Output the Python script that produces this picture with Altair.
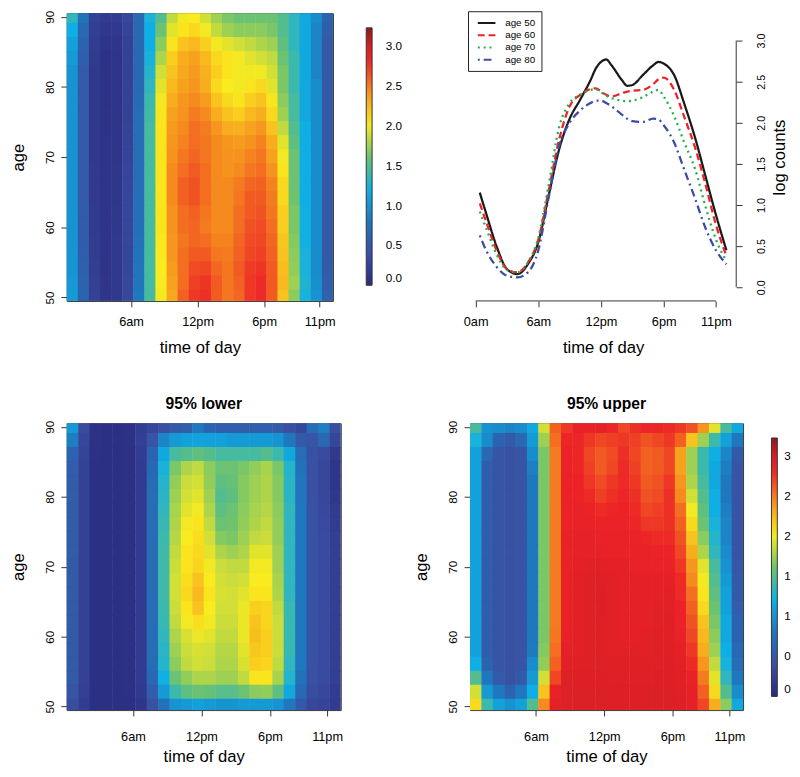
import altair as alt
import pandas as pd

FONT = "Liberation Sans"

# ---------------- data ----------------
ages = [90, 88, 86, 84, 82, 80, 78, 76, 74, 72, 70, 68, 66, 64, 62, 60, 58, 56, 54, 52, 50]
cell_hours = [0.2 + i for i in range(24)]  # left edge (hour) of each one-hour cell

mean_rows = [
    [1.35, 0.75, 0.25, 0.18, 0.20, 0.30, 0.65, 1.25, 1.50, 1.85, 2.00, 2.02, 1.90, 1.75, 1.65, 1.60, 1.60, 1.60, 1.60, 1.50, 1.35, 1.15, 0.95, 0.60],
    [1.20, 0.65, 0.22, 0.14, 0.16, 0.28, 0.65, 1.20, 1.60, 1.95, 2.05, 2.10, 2.00, 1.85, 1.75, 1.70, 1.70, 1.70, 1.65, 1.50, 1.35, 1.15, 0.90, 0.55],
    [1.10, 0.60, 0.20, 0.10, 0.12, 0.25, 0.65, 1.20, 1.70, 2.05, 2.20, 2.25, 2.15, 2.00, 1.95, 1.90, 1.85, 1.80, 1.75, 1.55, 1.35, 1.15, 0.90, 0.50],
    [1.05, 0.55, 0.18, 0.08, 0.10, 0.25, 0.65, 1.25, 1.80, 2.15, 2.30, 2.35, 2.25, 2.10, 2.05, 2.00, 1.95, 1.90, 1.85, 1.60, 1.40, 1.15, 0.90, 0.50],
    [1.00, 0.50, 0.16, 0.08, 0.10, 0.25, 0.65, 1.30, 1.90, 2.20, 2.32, 2.38, 2.28, 2.15, 2.05, 2.00, 2.00, 2.00, 1.90, 1.65, 1.40, 1.15, 0.90, 0.50],
    [1.00, 0.50, 0.15, 0.08, 0.10, 0.25, 0.65, 1.35, 1.95, 2.25, 2.35, 2.40, 2.30, 2.10, 2.02, 2.00, 2.05, 2.10, 1.95, 1.65, 1.40, 1.15, 0.95, 0.50],
    [1.00, 0.50, 0.15, 0.08, 0.10, 0.25, 0.68, 1.40, 2.00, 2.30, 2.40, 2.45, 2.38, 2.20, 2.10, 2.05, 2.15, 2.20, 2.05, 1.70, 1.45, 1.15, 0.95, 0.50],
    [1.00, 0.50, 0.15, 0.09, 0.11, 0.26, 0.70, 1.42, 2.05, 2.35, 2.42, 2.50, 2.45, 2.30, 2.20, 2.15, 2.25, 2.30, 2.10, 1.75, 1.45, 1.15, 0.95, 0.50],
    [1.00, 0.50, 0.16, 0.09, 0.11, 0.27, 0.70, 1.45, 2.05, 2.38, 2.45, 2.55, 2.50, 2.40, 2.30, 2.28, 2.35, 2.40, 2.20, 1.85, 1.50, 1.20, 0.95, 0.50],
    [1.00, 0.50, 0.16, 0.10, 0.12, 0.28, 0.70, 1.45, 2.05, 2.40, 2.48, 2.55, 2.52, 2.45, 2.40, 2.38, 2.42, 2.48, 2.30, 1.95, 1.55, 1.20, 0.95, 0.50],
    [1.00, 0.50, 0.16, 0.10, 0.12, 0.28, 0.70, 1.45, 2.05, 2.42, 2.52, 2.58, 2.52, 2.45, 2.42, 2.42, 2.48, 2.52, 2.35, 2.00, 1.60, 1.20, 0.95, 0.50],
    [1.00, 0.50, 0.17, 0.10, 0.13, 0.29, 0.71, 1.45, 2.05, 2.45, 2.55, 2.62, 2.55, 2.45, 2.42, 2.45, 2.52, 2.55, 2.42, 2.05, 1.60, 1.20, 0.95, 0.50],
    [1.00, 0.50, 0.17, 0.10, 0.13, 0.29, 0.71, 1.45, 2.05, 2.45, 2.60, 2.65, 2.55, 2.45, 2.45, 2.50, 2.58, 2.60, 2.48, 2.10, 1.60, 1.20, 0.95, 0.50],
    [1.00, 0.50, 0.17, 0.10, 0.13, 0.30, 0.72, 1.45, 2.05, 2.45, 2.60, 2.65, 2.55, 2.45, 2.45, 2.52, 2.62, 2.62, 2.50, 2.10, 1.62, 1.20, 0.95, 0.50],
    [1.00, 0.51, 0.18, 0.10, 0.14, 0.30, 0.72, 1.45, 2.05, 2.42, 2.55, 2.60, 2.52, 2.45, 2.45, 2.55, 2.62, 2.65, 2.52, 2.15, 1.65, 1.22, 0.95, 0.50],
    [1.00, 0.52, 0.18, 0.10, 0.14, 0.30, 0.72, 1.45, 2.05, 2.42, 2.55, 2.58, 2.50, 2.45, 2.45, 2.55, 2.65, 2.68, 2.55, 2.15, 1.65, 1.22, 0.95, 0.50],
    [1.00, 0.53, 0.19, 0.11, 0.15, 0.30, 0.74, 1.45, 2.04, 2.40, 2.52, 2.58, 2.55, 2.48, 2.48, 2.58, 2.68, 2.70, 2.58, 2.18, 1.68, 1.22, 0.95, 0.50],
    [1.01, 0.55, 0.20, 0.11, 0.15, 0.31, 0.76, 1.45, 2.03, 2.40, 2.55, 2.62, 2.62, 2.52, 2.50, 2.60, 2.70, 2.72, 2.60, 2.20, 1.70, 1.25, 0.95, 0.50],
    [1.02, 0.56, 0.22, 0.11, 0.15, 0.31, 0.78, 1.45, 2.02, 2.38, 2.55, 2.68, 2.70, 2.58, 2.52, 2.62, 2.74, 2.76, 2.62, 2.22, 1.72, 1.25, 0.95, 0.52],
    [1.04, 0.58, 0.23, 0.12, 0.16, 0.32, 0.79, 1.45, 2.01, 2.35, 2.55, 2.72, 2.76, 2.62, 2.52, 2.60, 2.75, 2.80, 2.62, 2.25, 1.75, 1.28, 0.98, 0.55],
    [1.05, 0.60, 0.25, 0.12, 0.16, 0.32, 0.80, 1.45, 2.00, 2.32, 2.60, 2.75, 2.78, 2.62, 2.52, 2.58, 2.75, 2.80, 2.62, 2.20, 1.70, 1.25, 1.00, 0.58],
]

lower_rows = [
    [1.05, 0.35, 0.08, 0.06, 0.06, 0.08, 0.20, 0.30, 0.40, 0.50, 0.55, 0.80, 0.60, 0.55, 0.55, 0.55, 0.55, 0.55, 0.50, 0.40, 0.30, 0.70, 0.85, 0.40],
    [0.85, 0.30, 0.08, 0.06, 0.06, 0.08, 0.22, 0.45, 0.90, 1.05, 1.10, 1.12, 1.10, 1.10, 1.05, 1.05, 1.05, 1.05, 1.00, 0.80, 0.50, 0.45, 0.65, 0.30],
    [0.60, 0.28, 0.07, 0.05, 0.05, 0.07, 0.20, 0.60, 1.15, 1.45, 1.50, 1.55, 1.50, 1.45, 1.45, 1.45, 1.45, 1.50, 1.40, 1.15, 0.70, 0.42, 0.35, 0.15],
    [0.55, 0.25, 0.06, 0.05, 0.05, 0.07, 0.18, 0.65, 1.25, 1.65, 1.80, 1.85, 1.70, 1.60, 1.60, 1.65, 1.72, 1.78, 1.65, 1.30, 0.75, 0.42, 0.32, 0.12],
    [0.52, 0.25, 0.06, 0.05, 0.05, 0.07, 0.18, 0.68, 1.30, 1.72, 1.88, 1.90, 1.72, 1.55, 1.58, 1.68, 1.75, 1.80, 1.68, 1.32, 0.78, 0.42, 0.32, 0.12],
    [0.52, 0.25, 0.06, 0.05, 0.05, 0.07, 0.18, 0.70, 1.32, 1.75, 1.90, 1.95, 1.75, 1.50, 1.55, 1.68, 1.75, 1.80, 1.68, 1.33, 0.78, 0.42, 0.32, 0.14],
    [0.52, 0.25, 0.06, 0.05, 0.05, 0.07, 0.18, 0.70, 1.35, 1.78, 1.95, 2.00, 1.80, 1.55, 1.60, 1.70, 1.78, 1.82, 1.70, 1.35, 0.80, 0.43, 0.33, 0.18],
    [0.52, 0.25, 0.06, 0.05, 0.05, 0.07, 0.18, 0.70, 1.38, 1.80, 2.00, 2.05, 1.85, 1.60, 1.62, 1.72, 1.80, 1.85, 1.72, 1.35, 0.80, 0.43, 0.34, 0.20],
    [0.52, 0.25, 0.06, 0.05, 0.05, 0.07, 0.18, 0.70, 1.40, 1.82, 2.02, 2.08, 1.90, 1.68, 1.65, 1.75, 1.85, 1.88, 1.72, 1.35, 0.80, 0.43, 0.35, 0.22],
    [0.52, 0.25, 0.06, 0.05, 0.05, 0.07, 0.18, 0.70, 1.42, 1.85, 2.05, 2.10, 1.95, 1.80, 1.75, 1.80, 1.95, 1.95, 1.75, 1.35, 0.80, 0.43, 0.35, 0.22],
    [0.50, 0.25, 0.06, 0.05, 0.05, 0.07, 0.18, 0.70, 1.42, 1.88, 2.05, 2.12, 2.00, 1.88, 1.85, 1.85, 2.00, 2.00, 1.75, 1.35, 0.80, 0.43, 0.35, 0.22],
    [0.50, 0.25, 0.06, 0.05, 0.05, 0.07, 0.18, 0.70, 1.42, 1.90, 2.08, 2.20, 2.02, 1.90, 1.88, 1.90, 2.02, 2.02, 1.78, 1.35, 0.80, 0.43, 0.35, 0.22],
    [0.50, 0.25, 0.06, 0.05, 0.05, 0.07, 0.18, 0.70, 1.42, 1.90, 2.10, 2.25, 2.05, 1.92, 1.90, 1.95, 2.05, 2.05, 1.80, 1.35, 0.80, 0.43, 0.35, 0.22],
    [0.50, 0.25, 0.06, 0.05, 0.05, 0.07, 0.18, 0.70, 1.40, 1.88, 2.05, 2.20, 2.02, 1.90, 1.90, 1.98, 2.15, 2.12, 1.85, 1.38, 0.80, 0.43, 0.35, 0.22],
    [0.50, 0.25, 0.06, 0.05, 0.05, 0.07, 0.18, 0.70, 1.38, 1.85, 2.00, 2.08, 2.00, 1.88, 1.88, 1.98, 2.20, 2.12, 1.88, 1.38, 0.80, 0.43, 0.35, 0.22],
    [0.50, 0.25, 0.06, 0.05, 0.05, 0.07, 0.18, 0.70, 1.35, 1.80, 1.92, 1.98, 1.95, 1.85, 1.85, 1.98, 2.22, 2.15, 1.88, 1.38, 0.80, 0.43, 0.35, 0.22],
    [0.50, 0.25, 0.06, 0.05, 0.05, 0.07, 0.18, 0.70, 1.32, 1.75, 1.88, 1.92, 1.90, 1.82, 1.82, 1.95, 2.18, 2.15, 1.88, 1.38, 0.80, 0.43, 0.35, 0.22],
    [0.50, 0.25, 0.06, 0.05, 0.05, 0.07, 0.18, 0.70, 1.30, 1.70, 1.85, 1.90, 1.88, 1.80, 1.80, 1.92, 2.15, 2.12, 1.85, 1.35, 0.80, 0.43, 0.35, 0.22],
    [0.50, 0.25, 0.06, 0.05, 0.05, 0.07, 0.18, 0.65, 1.22, 1.60, 1.72, 1.80, 1.80, 1.75, 1.75, 1.85, 2.05, 2.05, 1.78, 1.30, 0.75, 0.42, 0.35, 0.22],
    [0.45, 0.22, 0.06, 0.05, 0.05, 0.07, 0.15, 0.55, 1.05, 1.40, 1.55, 1.60, 1.58, 1.52, 1.52, 1.60, 1.70, 1.72, 1.55, 1.15, 0.65, 0.38, 0.32, 0.20],
    [0.38, 0.20, 0.05, 0.05, 0.05, 0.06, 0.12, 0.42, 0.75, 1.00, 1.05, 1.10, 1.05, 1.00, 1.00, 1.05, 1.05, 1.05, 1.00, 0.80, 0.50, 0.32, 0.28, 0.18],
]

upper_rows = [
    [1.45, 1.00, 0.95, 0.90, 0.95, 1.15, 1.90, 2.60, 2.75, 2.85, 2.85, 2.88, 2.82, 2.70, 2.78, 2.82, 2.82, 2.80, 2.75, 2.65, 2.40, 1.95, 1.45, 1.15],
    [1.25, 0.95, 0.60, 0.50, 0.65, 1.05, 1.75, 2.55, 2.82, 2.82, 2.75, 2.70, 2.72, 2.75, 2.72, 2.65, 2.70, 2.75, 2.60, 2.20, 1.75, 1.40, 1.10, 0.80],
    [1.10, 0.65, 0.45, 0.42, 0.45, 0.95, 1.65, 2.50, 2.84, 2.82, 2.70, 2.62, 2.68, 2.78, 2.70, 2.60, 2.62, 2.70, 2.35, 1.75, 1.40, 1.20, 0.90, 0.50],
    [1.10, 0.55, 0.45, 0.42, 0.45, 0.85, 1.65, 2.50, 2.84, 2.82, 2.72, 2.62, 2.70, 2.80, 2.72, 2.60, 2.62, 2.70, 2.35, 1.75, 1.40, 1.15, 0.85, 0.45],
    [1.10, 0.55, 0.45, 0.42, 0.45, 0.80, 1.65, 2.50, 2.84, 2.83, 2.75, 2.68, 2.75, 2.80, 2.75, 2.62, 2.65, 2.75, 2.40, 1.80, 1.45, 1.15, 0.80, 0.45],
    [1.10, 0.55, 0.45, 0.42, 0.45, 0.80, 1.65, 2.50, 2.84, 2.84, 2.80, 2.72, 2.78, 2.82, 2.78, 2.65, 2.68, 2.78, 2.45, 1.90, 1.50, 1.20, 0.80, 0.45],
    [1.10, 0.55, 0.45, 0.42, 0.45, 0.80, 1.65, 2.50, 2.84, 2.86, 2.83, 2.80, 2.82, 2.83, 2.80, 2.70, 2.72, 2.78, 2.55, 2.00, 1.55, 1.20, 0.85, 0.45],
    [1.10, 0.55, 0.45, 0.42, 0.45, 0.80, 1.65, 2.50, 2.84, 2.86, 2.85, 2.84, 2.84, 2.84, 2.82, 2.75, 2.75, 2.78, 2.60, 2.10, 1.60, 1.25, 0.90, 0.45],
    [1.10, 0.55, 0.45, 0.42, 0.45, 0.80, 1.65, 2.50, 2.85, 2.87, 2.87, 2.86, 2.86, 2.85, 2.84, 2.82, 2.80, 2.80, 2.65, 2.20, 1.70, 1.30, 0.90, 0.45],
    [1.10, 0.55, 0.45, 0.42, 0.45, 0.80, 1.65, 2.50, 2.85, 2.87, 2.87, 2.87, 2.86, 2.86, 2.85, 2.85, 2.84, 2.84, 2.70, 2.30, 1.80, 1.35, 0.95, 0.45],
    [1.10, 0.55, 0.45, 0.42, 0.45, 0.80, 1.65, 2.50, 2.86, 2.88, 2.90, 2.90, 2.88, 2.88, 2.86, 2.86, 2.86, 2.86, 2.75, 2.40, 1.95, 1.45, 1.00, 0.48],
    [1.10, 0.55, 0.45, 0.42, 0.45, 0.80, 1.65, 2.50, 2.86, 2.90, 2.93, 2.93, 2.90, 2.88, 2.88, 2.88, 2.88, 2.88, 2.80, 2.45, 2.00, 1.50, 1.05, 0.50],
    [1.10, 0.55, 0.45, 0.42, 0.45, 0.80, 1.65, 2.50, 2.86, 2.90, 2.93, 2.94, 2.90, 2.88, 2.88, 2.88, 2.88, 2.90, 2.80, 2.55, 2.05, 1.55, 1.10, 0.50],
    [1.10, 0.55, 0.45, 0.42, 0.45, 0.80, 1.65, 2.50, 2.86, 2.90, 2.93, 2.94, 2.90, 2.88, 2.88, 2.88, 2.90, 2.91, 2.84, 2.60, 2.10, 1.60, 1.10, 0.55],
    [1.10, 0.55, 0.45, 0.42, 0.45, 0.80, 1.65, 2.50, 2.86, 2.90, 2.92, 2.93, 2.90, 2.88, 2.88, 2.88, 2.90, 2.92, 2.84, 2.65, 2.20, 1.65, 1.15, 0.60],
    [1.10, 0.55, 0.45, 0.42, 0.45, 0.80, 1.65, 2.52, 2.86, 2.90, 2.92, 2.92, 2.90, 2.88, 2.88, 2.90, 2.92, 2.92, 2.86, 2.70, 2.25, 1.70, 1.15, 0.60],
    [1.10, 0.55, 0.45, 0.42, 0.45, 0.82, 1.68, 2.55, 2.88, 2.90, 2.92, 2.92, 2.90, 2.90, 2.90, 2.90, 2.92, 2.92, 2.88, 2.75, 2.30, 1.75, 1.20, 0.65],
    [1.20, 0.60, 0.45, 0.42, 0.45, 0.95, 1.72, 2.60, 2.90, 2.92, 2.93, 2.93, 2.92, 2.92, 2.92, 2.92, 2.93, 2.94, 2.90, 2.80, 2.40, 1.85, 1.25, 0.70],
    [1.50, 0.80, 0.50, 0.42, 0.50, 1.05, 1.90, 2.70, 2.92, 2.94, 2.94, 2.94, 2.93, 2.93, 2.93, 2.93, 2.94, 2.94, 2.92, 2.85, 2.50, 1.95, 1.35, 0.80],
    [1.90, 1.05, 0.80, 0.60, 0.80, 1.20, 2.20, 2.85, 2.93, 2.95, 2.95, 2.95, 2.94, 2.94, 2.94, 2.94, 2.95, 2.95, 2.93, 2.88, 2.60, 2.10, 1.50, 0.95],
    [2.10, 1.40, 1.10, 1.00, 1.10, 1.50, 2.45, 2.88, 2.93, 2.95, 2.95, 2.95, 2.94, 2.94, 2.94, 2.94, 2.95, 2.95, 2.93, 2.88, 2.70, 2.30, 1.70, 1.15],
]

time_ticks = [6, 12, 18, 23]
time_labels = ["6am", "12pm", "6pm", "11pm"]
line_time_ticks = [0, 6, 12, 18, 23]
line_time_labels = ["0am", "6am", "12pm", "6pm", "11pm"]
age_ticks = [50, 60, 70, 80, 90]
count_ticks = [0.0, 0.5, 1.0, 1.5, 2.0, 2.5, 3.0]
bar_ticks = [0.0, 0.5, 1.0, 1.5, 2.0, 2.5, 3.0]

line_hours = [0.4, 1, 2, 3, 4, 5, 6, 7, 8, 9, 10, 11, 11.5, 12, 12.5, 13, 14, 14.5, 15,
              16, 17, 17.5, 18, 19, 20, 21, 22, 23, 24]
age50 = [1.15, 0.90, 0.50, 0.22, 0.16, 0.28, 0.55, 1.12, 1.68, 2.05, 2.28, 2.52, 2.66, 2.74, 2.77,
         2.70, 2.52, 2.45, 2.46, 2.58, 2.70, 2.74, 2.72, 2.58, 2.22, 1.82, 1.35, 0.88, 0.45]
age60 = [1.02, 0.80, 0.45, 0.22, 0.18, 0.30, 0.58, 1.18, 1.80, 2.20, 2.34, 2.41, 2.42, 2.38, 2.34,
         2.32, 2.36, 2.38, 2.39, 2.40, 2.47, 2.53, 2.55, 2.40, 2.06, 1.70, 1.25, 0.76, 0.38]
age70 = [0.92, 0.72, 0.40, 0.21, 0.18, 0.30, 0.60, 1.25, 1.95, 2.24, 2.34, 2.40, 2.41, 2.37, 2.33,
         2.30, 2.27, 2.26, 2.27, 2.31, 2.38, 2.40, 2.32, 2.08, 1.75, 1.44, 0.98, 0.58, 0.32]
age80 = [0.63, 0.45, 0.25, 0.14, 0.12, 0.18, 0.45, 1.10, 1.72, 2.00, 2.15, 2.24, 2.27, 2.27, 2.24,
         2.20, 2.10, 2.05, 2.02, 2.01, 2.05, 2.04, 1.97, 1.76, 1.42, 1.08, 0.72, 0.45, 0.28]
series_names = ["age 50", "age 60", "age 70", "age 80"]
line_colors = ["#1A1A1A", "#EC2227", "#1DB14B", "#3B4CA5"]
line_dashes = [[1, 0], [7, 4], [2, 4], [2, 4, 8, 4]]

color_stops = [0.0, 0.40, 0.81, 1.21, 1.61, 2.02, 2.42, 2.83, 3.03, 3.23]
color_hex = ["#2A2B80", "#3A4FA2", "#1E78BE", "#0FB0E6", "#6DC26F",
             "#FAEB1E", "#F6921E", "#EC2227", "#D01F25", "#8B1A1C"]

AGE_LO, AGE_HI = 49.5, 90.5
T_LO, T_HI = 0.2, 24.2
CELL_OVERLAP_H = 0.04   # tiny overlap so neighbouring cells leave no hairline seams
CELL_OVERLAP_A = 0.12


def label_expr(vals, names):
    expr = "''"
    for v, n in zip(reversed(vals), reversed(names)):
        expr = f"datum.value == {v} ? '{n}' : ({expr})"
    return expr


def heat_df(rows):
    recs = []
    for age, row in zip(ages, rows):
        for h, v in zip(cell_hours, row):
            recs.append({"t0": max(h, T_LO), "t1": min(h + 1 + CELL_OVERLAP_H, T_HI),
                         "a0": max(age - 1, AGE_LO),
                         "a1": min(age + 1 + CELL_OVERLAP_A, AGE_HI), "v": v})
    return pd.DataFrame(recs)


def heatmap(rows, width, height, legend, lab_pad, title_pad):
    cscale = alt.Scale(domain=color_stops, range=color_hex, interpolate="rgb", clamp=True)
    return alt.Chart(heat_df(rows)).mark_rect(strokeWidth=0).encode(
        x=alt.X("t0:Q", scale=alt.Scale(domain=[T_LO, T_HI], nice=False, zero=False),
                axis=alt.Axis(values=time_ticks, labelExpr=label_expr(time_ticks, time_labels),
                              title="time of day", domain=False, grid=False, tickSize=6,
                              labelPadding=lab_pad, titlePadding=title_pad, labelFontSize=13,
                              titleFontSize=17)),
        x2="t1:Q",
        y=alt.Y("a0:Q", scale=alt.Scale(domain=[AGE_LO, AGE_HI], nice=False, zero=False),
                axis=alt.Axis(values=age_ticks, title="age", labelAngle=270,
                              labelAlign="center", labelBaseline="bottom", domain=False,
                              grid=False, tickSize=6, labelPadding=5, titlePadding=16,
                              labelFontSize=12, titleFontSize=17)),
        y2="a1:Q",
        color=alt.Color("v:Q", scale=cscale, legend=legend),
    ).properties(width=width, height=height)


def bar_legend(x, y, length, offset, expr=None):
    kw = dict(type="gradient", orient="none", legendX=x, legendY=y, title=None,
              direction="vertical", gradientLength=length, gradientThickness=6,
              gradientStrokeColor="#333333", gradientStrokeWidth=1, values=bar_ticks,
              format=".1f", labelFontSize=12, labelOffset=offset, labelBaseline="middle",
              labelOverlap=False, padding=0)
    if expr:
        kw["labelExpr"] = expr
    return alt.Legend(**kw)


tl = heatmap(mean_rows, 272, 294, bar_legend(306, 15, 263, 14), 9, 12)
bl = heatmap(lower_rows, 280, 293, None, 15, 6).properties(
    title=alt.Title("95% lower", fontSize=16, fontWeight="bold", offset=9))
br = heatmap(upper_rows, 279, 293,
             bar_legend(308, 15, 264, 7, "substring(datum.label, 0, 1)"), 15, 6).properties(
    title=alt.Title("95% upper", fontSize=16, fontWeight="bold", offset=9))

# ---- line panel ----
recs = []
for name, vals in zip(series_names, [age50, age60, age70, age80]):
    for h, v in zip(line_hours, vals):
        recs.append({"hour": h, "value": v, "series": name})
lines_df = pd.DataFrame(recs)

TR_W, TR_H = 272, 294
x_scale = alt.Scale(domain=[-0.54, 24.94], nice=False, zero=False)
y_scale = alt.Scale(domain=[-0.167, 3.333], nice=False, zero=False)
x_axis = alt.Axis(values=line_time_ticks, labelExpr=label_expr(line_time_ticks, line_time_labels),
                  title="time of day", domain=False, grid=False, tickSize=6,
                  labelPadding=9, titlePadding=12, labelFontSize=13, titleFontSize=17)
y_axis = alt.Axis(orient="right", values=count_ticks, format=".1f", title="log counts",
                  labelAngle=270, titleAngle=270, titleBaseline="top", domain=False,
                  grid=False, tickSize=6, labelPadding=14, titlePadding=5, labelFontSize=11,
                  titleFontSize=17)
leg = alt.Legend(orient="none", legendX=-2, legendY=-2, title=None, strokeColor="#222222",
                 fillColor="white", padding=6, symbolType="M-1.8,0H1.8", symbolSize=100,
                 symbolOffset=7, symbolStrokeWidth=2, labelFontSize=10, rowPadding=1.5,
                 labelOffset=13)

lines = alt.Chart(lines_df).mark_line(strokeWidth=2.3, interpolate="monotone").encode(
    x=alt.X("hour:Q", scale=x_scale, axis=x_axis),
    y=alt.Y("value:Q", scale=y_scale, axis=y_axis),
    color=alt.Color("series:N", scale=alt.Scale(domain=series_names, range=line_colors),
                    legend=leg),
    strokeDash=alt.StrokeDash("series:N", scale=alt.Scale(domain=series_names, range=line_dashes),
                              legend=leg),
)
xline_df = pd.DataFrame({"hour": [line_time_ticks[0]], "hour2": [line_time_ticks[-1]]})
x_axis_line = alt.Chart(xline_df).mark_rule(color="#333333", strokeWidth=1).encode(
    x=alt.X("hour:Q", scale=x_scale, axis=x_axis), x2="hour2:Q", y=alt.value(TR_H))
yline_df = pd.DataFrame({"value": [count_ticks[0]], "value2": [count_ticks[-1]]})
y_axis_line = alt.Chart(yline_df).mark_rule(color="#333333", strokeWidth=1).encode(
    y=alt.Y("value:Q", scale=y_scale, axis=y_axis), y2="value2:Q", x=alt.value(TR_W))

tr = alt.layer(lines, x_axis_line, y_axis_line).properties(
    width=TR_W, height=TR_H, view=alt.ViewBackground(stroke=None))

PAD = {"left": 1, "top": -7, "right": 0, "bottom": 0}
chart = alt.concat(
    tl, tr, bl, br, columns=2, spacing={"row": 125, "column": 132},
    bounds="flush", align="all"
).resolve_scale(
    color="independent", strokeDash="independent", x="independent", y="independent"
).properties(
    padding=PAD
).configure(
    font=FONT, padding=PAD
).configure_axis(
    labelColor="#000000", titleColor="#000000", tickColor="#333333", labelFont=FONT,
    titleFont=FONT, titleFontWeight="normal"
).configure_view(
    stroke="#333333", strokeWidth=1
).configure_legend(
    labelFont=FONT, labelColor="#000000"
)

chart.save("out.html", embed_options={"renderer": "svg", "actions": False})
